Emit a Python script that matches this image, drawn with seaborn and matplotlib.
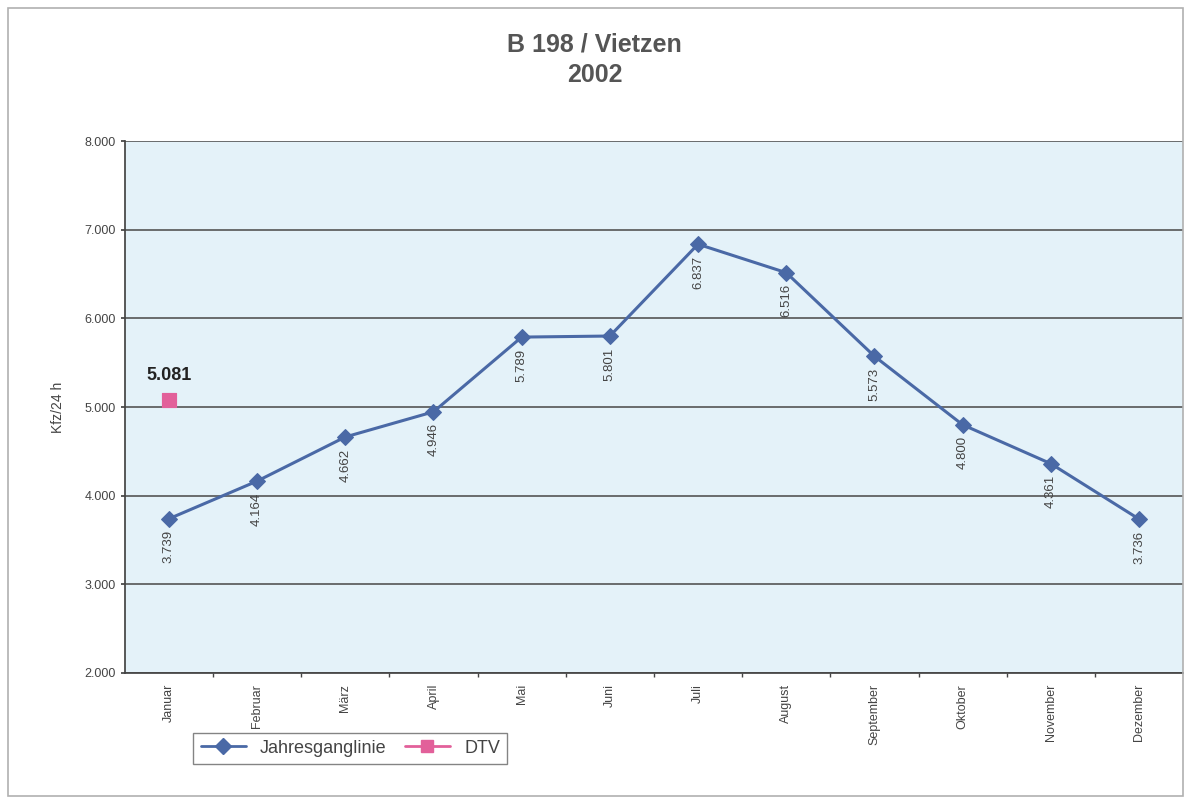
import pandas as pd
import seaborn as sns
import matplotlib.pyplot as plt
from matplotlib.lines import Line2D
from matplotlib.patches import Rectangle

# =========================
# Data
# =========================
monate = ["Januar", "Februar", "März", "April", "Mai", "Juni", "Juli",
          "August", "September", "Oktober", "November", "Dezember"]
kfz_24h = [3739, 4164, 4662, 4946, 5789, 5801, 6837, 6516, 5573, 4800, 4361, 3736]
dtv_monat = ["Januar"]
dtv_wert = [5081]
y_ticks = [2000, 3000, 4000, 5000, 6000, 7000, 8000]


def de_fmt(v):
    return f"{v:,.0f}".replace(",", ".")


df = pd.DataFrame({"monat": monate, "pos": range(len(monate)), "kfz": kfz_24h})
df_dtv = pd.DataFrame({"pos": [monate.index(m) for m in dtv_monat], "kfz": dtv_wert})

# =========================
# Plot
# =========================
sns.set_theme(style="white")
plt.rcParams["font.family"] = ["Liberation Sans", "DejaVu Sans"]

fig = plt.figure(figsize=(11.89, 8.02), dpi=100)
fig.patches.append(Rectangle((0.007, 0.008), 0.988, 0.982, transform=fig.transFigure,
                             fill=False, edgecolor="#b0b0b0", linewidth=1.2))
ax = fig.add_axes([0.105, 0.161, 0.89, 0.663])
ax.set_facecolor("#e4f2f9")

line_col = "#4a69a6"
dtv_col = "#e2609a"

sns.lineplot(data=df, x="pos", y="kfz", ax=ax, color=line_col, linewidth=2.2,
             marker="D", markersize=8, markeredgecolor=line_col, zorder=3)
sns.scatterplot(data=df_dtv, x="pos", y="kfz", ax=ax, color=dtv_col, marker="s",
                s=110, edgecolor=dtv_col, zorder=4)

for p, v in zip(df["pos"], df["kfz"]):
    ax.text(p, v - 130, de_fmt(v), rotation=90, ha="center", va="top",
            fontsize=9.5, color="#444444")
for p, v in zip(df_dtv["pos"], df_dtv["kfz"]):
    ax.text(p, v + 180, de_fmt(v), ha="center", va="bottom", fontsize=13,
            fontweight="bold", color="#222222")

ax.set_xlim(-0.5, len(monate) - 0.5)
ax.set_ylim(2000, 8000)
ax.set_yticks(y_ticks)
ax.set_yticklabels([de_fmt(t) for t in y_ticks], fontsize=9, color="#444444")
ax.set_xticks(range(len(monate)))
ax.set_xticklabels(monate, rotation=90, fontsize=9, color="#444444")
ax.set_xticks([i + 0.5 for i in range(len(monate) - 1)], minor=True)
ax.tick_params(axis="x", which="major", length=0, pad=8)
ax.tick_params(axis="x", which="minor", length=3, color="#444444", bottom=True)
ax.tick_params(axis="y", length=3, color="#444444", left=True)
ax.grid(axis="y", color="#555555", linewidth=1.2)
ax.set_axisbelow(True)
for s in ["top", "right"]:
    ax.spines[s].set_visible(False)
ax.spines["left"].set_color("#444444")
ax.spines["bottom"].set_color("#444444")
ax.set_xlabel("")
ax.set_ylabel("Kfz/24 h", fontsize=10, color="#444444", labelpad=14)

fig.text(0.5, 0.96, "B 198 / Vietzen\n2002", ha="center", va="top", fontsize=18,
         fontweight="bold", color="#555555", linespacing=1.35)

handles = [
    Line2D([], [], color=line_col, marker="D", markersize=8, linewidth=2),
    Line2D([], [], color=dtv_col, marker="s", markersize=9, linewidth=2),
]
fig.legend(handles, ["Jahresganglinie", "DTV"], loc="center left",
           bbox_to_anchor=(0.155, 0.067), ncol=2, fontsize=13, frameon=True,
           fancybox=False, edgecolor="#666666", handlelength=2.5,
           columnspacing=1.0, labelcolor="#444444")

fig.savefig("out.png", dpi=100)
